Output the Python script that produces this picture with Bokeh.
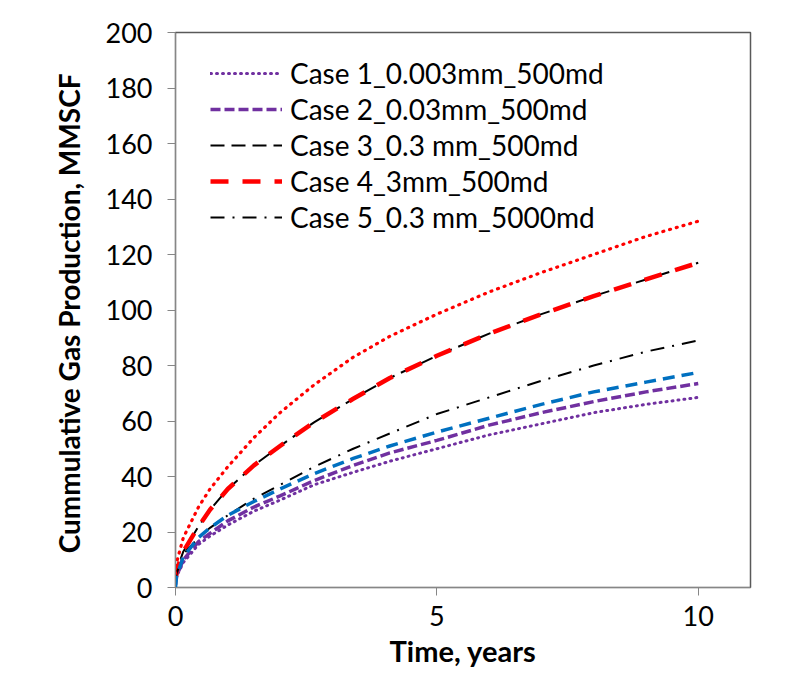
from bokeh.plotting import figure
from bokeh.models import Range1d, FixedTicker, Legend, LegendItem
from bokeh.embed import file_html
from bokeh.resources import INLINE

time_years = [0, 0.02, 0.15, 0.44, 0.66, 1.0, 1.5, 2.0, 2.65, 3.4, 4.1, 5.0, 6.0, 7.0, 8.0, 9.0, 10.0]

case1 = [1, 4, 9, 15.5, 18.5, 22.5, 27.5, 31.5, 37, 41.5, 45.5, 50, 55, 59, 63, 66, 68.5]
case2 = [1, 4, 10, 16.5, 19.5, 24, 29, 33, 38.5, 44, 48.5, 53, 58.5, 63, 67, 70.5, 73.5]
case3 = [3, 6, 13, 22, 28, 35.5, 44, 51, 59.5, 68, 75.5, 83.5, 91.5, 98.5, 105, 111, 117]
case4 = [3, 6, 13, 22, 28, 35.5, 44, 51, 59.5, 68, 75.5, 83.5, 91.5, 98.5, 105, 111, 117]
case5 = [2, 5, 12, 18, 21.5, 26, 32, 37, 43.5, 50, 55.5, 62.5, 68.5, 74.5, 80, 85, 89]
extra_red = [5, 9, 18, 29, 35.5, 43.5, 54, 63, 73, 83, 90.5, 98.5, 106.5, 113.5, 120, 126.5, 132]
extra_blue = [0, 4, 11, 18, 21.5, 26, 31, 35.5, 41, 46.5, 51, 56, 61, 66, 70.5, 74, 77.5]

labels = ["Case 1_0.003mm_500md", "Case 2_0.03mm_500md", "Case 3_0.3 mm_500md",
          "Case 4_3mm_500md", "Case 5_0.3 mm_5000md"]
x_ticks = [0, 5, 10]
y_ticks = [0, 20, 40, 60, 80, 100, 120, 140, 160, 180, 200]

FONT = "Lato"

p = figure(width=790, height=670, output_backend="svg", toolbar_location=None,
           x_range=Range1d(0, 11), y_range=Range1d(0, 200),
           min_border_left=175, min_border_right=40, min_border_top=32, min_border_bottom=82)
p.xgrid.visible = False
p.ygrid.visible = False
p.outline_line_color = "#595959"
p.outline_line_width = 1.5

r1 = p.line(time_years, case1, line_color="#7030A0", line_width=3, line_dash="1 5", line_cap="round")
r2 = p.line(time_years, case2, line_color="#7030A0", line_width=3.5, line_dash="10 4")
r3 = p.line(time_years, case3, line_color="black", line_width=2, line_dash="14 7")
r4 = p.line(time_years, case4, line_color="#FF0000", line_width=4.5, line_dash="18 14")
r5 = p.line(time_years, case5, line_color="black", line_width=2, line_dash="14 8 2 8")
p.line(time_years, extra_blue, line_color="#0070C0", line_width=3.5, line_dash="12 7")
p.line(time_years, extra_red, line_color="#FF0000", line_width=3.2, line_dash="1 6", line_cap="round")

legend = Legend(items=[LegendItem(label=l, renderers=[r]) for l, r in zip(labels, [r1, r2, r3, r4, r5])],
                location=(35, 352))
legend.border_line_color = None
legend.background_fill_alpha = 0
legend.padding = 0
legend.spacing = 0
legend.margin = 0
legend.glyph_width = 72
legend.glyph_height = 36
legend.label_height = 36
legend.label_standoff = 8
legend.label_text_font = FONT
legend.label_text_font_size = "28px"
legend.label_text_color = "black"
p.add_layout(legend)

for ax in (p.xaxis[0], p.yaxis[0]):
    ax.axis_line_color = "#868686"
    ax.major_tick_line_color = "#868686"
    ax.major_tick_out = 8
    ax.major_tick_in = 0
    ax.minor_tick_line_color = None
    ax.major_label_text_font = FONT
    ax.major_label_text_font_size = "27px"
    ax.major_label_text_color = "black"
    ax.axis_label_text_font = FONT
    ax.axis_label_text_font_style = "bold"
    ax.axis_label_text_color = "black"

p.xaxis.axis_label_text_font_size = "29px"
p.yaxis.axis_label_text_font_size = "28px"
p.xaxis.ticker = FixedTicker(ticks=x_ticks)
p.yaxis.ticker = FixedTicker(ticks=y_ticks)
p.xaxis.axis_label = "Time, years"
p.yaxis.axis_label = "Cummulative Gas Production,  MMSCF"
p.xaxis.major_label_standoff = 10
p.yaxis.major_label_standoff = 15
p.xaxis.axis_label_standoff = 4
p.yaxis.axis_label_standoff = 17

open("out.html", "w").write(file_html(p, INLINE))
